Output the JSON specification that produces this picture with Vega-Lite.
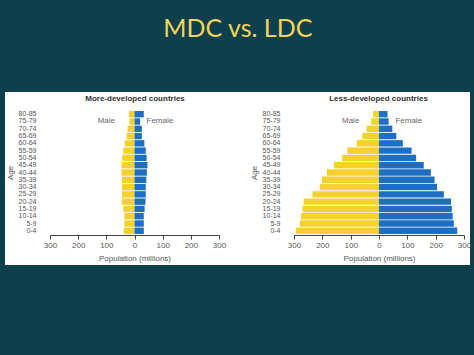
{
  "$schema": "https://vega.github.io/schema/vega-lite/v6.json",
  "background": "#0e3f4c",
  "padding": {"left": 5, "right": 4, "top": 17, "bottom": 92},
  "title": {"text": "MDC vs. LDC", "color": "#f4d45a", "fontSize": 25, "font": "Lato", "fontWeight": "normal", "anchor": "middle", "offset": 50},
  "spacing": 0,
  "datasets": {
    "mdc": [
      {"age": "80-85", "sex": "Male", "value": -20}, {"age": "80-85", "sex": "Female", "value": 33},
      {"age": "75-79", "sex": "Male", "value": -18}, {"age": "75-79", "sex": "Female", "value": 20},
      {"age": "70-74", "sex": "Male", "value": -25}, {"age": "70-74", "sex": "Female", "value": 26},
      {"age": "65-69", "sex": "Male", "value": -28}, {"age": "65-69", "sex": "Female", "value": 26},
      {"age": "60-64", "sex": "Male", "value": -35}, {"age": "60-64", "sex": "Female", "value": 35},
      {"age": "55-59", "sex": "Male", "value": -40}, {"age": "55-59", "sex": "Female", "value": 40},
      {"age": "50-54", "sex": "Male", "value": -44}, {"age": "50-54", "sex": "Female", "value": 43},
      {"age": "45-49", "sex": "Male", "value": -46}, {"age": "45-49", "sex": "Female", "value": 46},
      {"age": "40-44", "sex": "Male", "value": -46}, {"age": "40-44", "sex": "Female", "value": 44},
      {"age": "35-39", "sex": "Male", "value": -45}, {"age": "35-39", "sex": "Female", "value": 42},
      {"age": "30-34", "sex": "Male", "value": -44}, {"age": "30-34", "sex": "Female", "value": 40},
      {"age": "25-29", "sex": "Male", "value": -44}, {"age": "25-29", "sex": "Female", "value": 40},
      {"age": "20-24", "sex": "Male", "value": -45}, {"age": "20-24", "sex": "Female", "value": 39},
      {"age": "15-19", "sex": "Male", "value": -40}, {"age": "15-19", "sex": "Female", "value": 36},
      {"age": "10-14", "sex": "Male", "value": -36}, {"age": "10-14", "sex": "Female", "value": 33},
      {"age": "5-9", "sex": "Male", "value": -36}, {"age": "5-9", "sex": "Female", "value": 33},
      {"age": "0-4", "sex": "Male", "value": -38}, {"age": "0-4", "sex": "Female", "value": 33}
    ],
    "ldc": [
      {"age": "80-85", "sex": "Male", "value": -21}, {"age": "80-85", "sex": "Female", "value": 30},
      {"age": "75-79", "sex": "Male", "value": -28}, {"age": "75-79", "sex": "Female", "value": 34},
      {"age": "70-74", "sex": "Male", "value": -44}, {"age": "70-74", "sex": "Female", "value": 47},
      {"age": "65-69", "sex": "Male", "value": -59}, {"age": "65-69", "sex": "Female", "value": 61},
      {"age": "60-64", "sex": "Male", "value": -79}, {"age": "60-64", "sex": "Female", "value": 84},
      {"age": "55-59", "sex": "Male", "value": -112}, {"age": "55-59", "sex": "Female", "value": 115},
      {"age": "50-54", "sex": "Male", "value": -130}, {"age": "50-54", "sex": "Female", "value": 131},
      {"age": "45-49", "sex": "Male", "value": -159}, {"age": "45-49", "sex": "Female", "value": 158},
      {"age": "40-44", "sex": "Male", "value": -184}, {"age": "40-44", "sex": "Female", "value": 183},
      {"age": "35-39", "sex": "Male", "value": -201}, {"age": "35-39", "sex": "Female", "value": 196},
      {"age": "30-34", "sex": "Male", "value": -209}, {"age": "30-34", "sex": "Female", "value": 205},
      {"age": "25-29", "sex": "Male", "value": -235}, {"age": "25-29", "sex": "Female", "value": 229},
      {"age": "20-24", "sex": "Male", "value": -266}, {"age": "20-24", "sex": "Female", "value": 254},
      {"age": "15-19", "sex": "Male", "value": -270}, {"age": "15-19", "sex": "Female", "value": 257},
      {"age": "10-14", "sex": "Male", "value": -275}, {"age": "10-14", "sex": "Female", "value": 260},
      {"age": "5-9", "sex": "Male", "value": -279}, {"age": "5-9", "sex": "Female", "value": 264},
      {"age": "0-4", "sex": "Male", "value": -293}, {"age": "0-4", "sex": "Female", "value": 276}
    ],
    "mdcLabels": [
      {"age": "75-79", "label": "Male", "value": -100},
      {"age": "75-79", "label": "Female", "value": 90}
    ],
    "ldcLabels": [
      {"age": "75-79", "label": "Male", "value": -100},
      {"age": "75-79", "label": "Female", "value": 105}
    ]
  },
  "hconcat": [
    {
      "width": 232,
      "height": 173,
      "title": {"text": "More-developed countries", "fontSize": 8, "fontWeight": "bold", "color": "#333333", "font": "Liberation Sans", "anchor": "middle", "baseline": "middle", "offset": -15, "dx": 14},
      "encoding": {
        "y": {"field": "age", "type": "nominal",
          "scale": {"domain": ["80-85","75-79","70-74","65-69","60-64","55-59","50-54","45-49","40-44","35-39","30-34","25-29","20-24","15-19","10-14","5-9","0-4"], "range": [19, 142], "paddingInner": 0.12, "paddingOuter": 0},
          "axis": {"orient": "left", "offset": -33, "domain": false, "ticks": false, "labelPadding": 2, "labelFontSize": 7, "labelColor": "#555555", "labelFont": "Liberation Sans", "title": "Age", "titleFontSize": 8, "titleFontWeight": "normal", "titleColor": "#555555", "titleFont": "Liberation Sans", "titlePadding": 4}},
        "x": {"field": "value", "type": "quantitative",
          "scale": {"domain": [-300, 300], "range": [45, 214], "nice": false},
          "axis": {"offset": -30, "values": [-300,-200,-100,0,100,200,300], "labelExpr": "abs(datum.value)", "labelOverlap": false, "labelFlush": false, "grid": false, "domainColor": "#444444", "tickColor": "#444444", "tickSize": 4, "labelFontSize": 8, "labelColor": "#555555", "labelFont": "Liberation Sans", "labelPadding": 2, "title": "Population (millions)", "titleFontSize": 8, "titleFontWeight": "normal", "titleColor": "#555555", "titleFont": "Liberation Sans", "titlePadding": 5}}
      },
      "layer": [
        {
          "data": {"name": "mdc"},
          "mark": {"type": "bar"},
          "encoding": {
            "color": {"field": "sex", "type": "nominal", "scale": {"domain": ["Male", "Female"], "range": ["#f6d12e", "#1c6fc3"]}, "legend": null}
          }
        },
        {
          "data": {"name": "mdcLabels"},
          "mark": {"type": "text", "fontSize": 8, "color": "#666666", "font": "Liberation Sans"},
          "encoding": {"text": {"field": "label"}}
        }
      ]
    },
    {
      "width": 233,
      "height": 173,
      "title": {"text": "Less-developed countries", "fontSize": 8, "fontWeight": "bold", "color": "#333333", "font": "Liberation Sans", "anchor": "middle", "baseline": "middle", "offset": -15, "dx": 25},
      "encoding": {
        "y": {"field": "age", "type": "nominal",
          "scale": {"domain": ["80-85","75-79","70-74","65-69","60-64","55-59","50-54","45-49","40-44","35-39","30-34","25-29","20-24","15-19","10-14","5-9","0-4"], "range": [19, 142], "paddingInner": 0.12, "paddingOuter": 0},
          "axis": {"orient": "left", "offset": -45, "domain": false, "ticks": false, "labelPadding": 2, "labelFontSize": 7, "labelColor": "#555555", "labelFont": "Liberation Sans", "title": "Age", "titleFontSize": 8, "titleFontWeight": "normal", "titleColor": "#555555", "titleFont": "Liberation Sans", "titlePadding": 4}},
        "x": {"field": "value", "type": "quantitative",
          "scale": {"domain": [-300, 300], "range": [57, 227], "nice": false},
          "axis": {"offset": -30, "values": [-300,-200,-100,0,100,200,300], "labelExpr": "abs(datum.value)", "labelOverlap": false, "labelFlush": false, "grid": false, "domainColor": "#444444", "tickColor": "#444444", "tickSize": 4, "labelFontSize": 8, "labelColor": "#555555", "labelFont": "Liberation Sans", "labelPadding": 2, "title": "Population (millions)", "titleFontSize": 8, "titleFontWeight": "normal", "titleColor": "#555555", "titleFont": "Liberation Sans", "titlePadding": 5}}
      },
      "layer": [
        {
          "data": {"name": "ldc"},
          "mark": {"type": "bar"},
          "encoding": {
            "color": {"field": "sex", "type": "nominal", "scale": {"domain": ["Male", "Female"], "range": ["#f6d12e", "#1c6fc3"]}, "legend": null}
          }
        },
        {
          "data": {"name": "ldcLabels"},
          "mark": {"type": "text", "fontSize": 8, "color": "#666666", "font": "Liberation Sans"},
          "encoding": {"text": {"field": "label"}}
        }
      ]
    }
  ],
  "config": {
    "view": {"fill": "white", "stroke": null}
  }
}
